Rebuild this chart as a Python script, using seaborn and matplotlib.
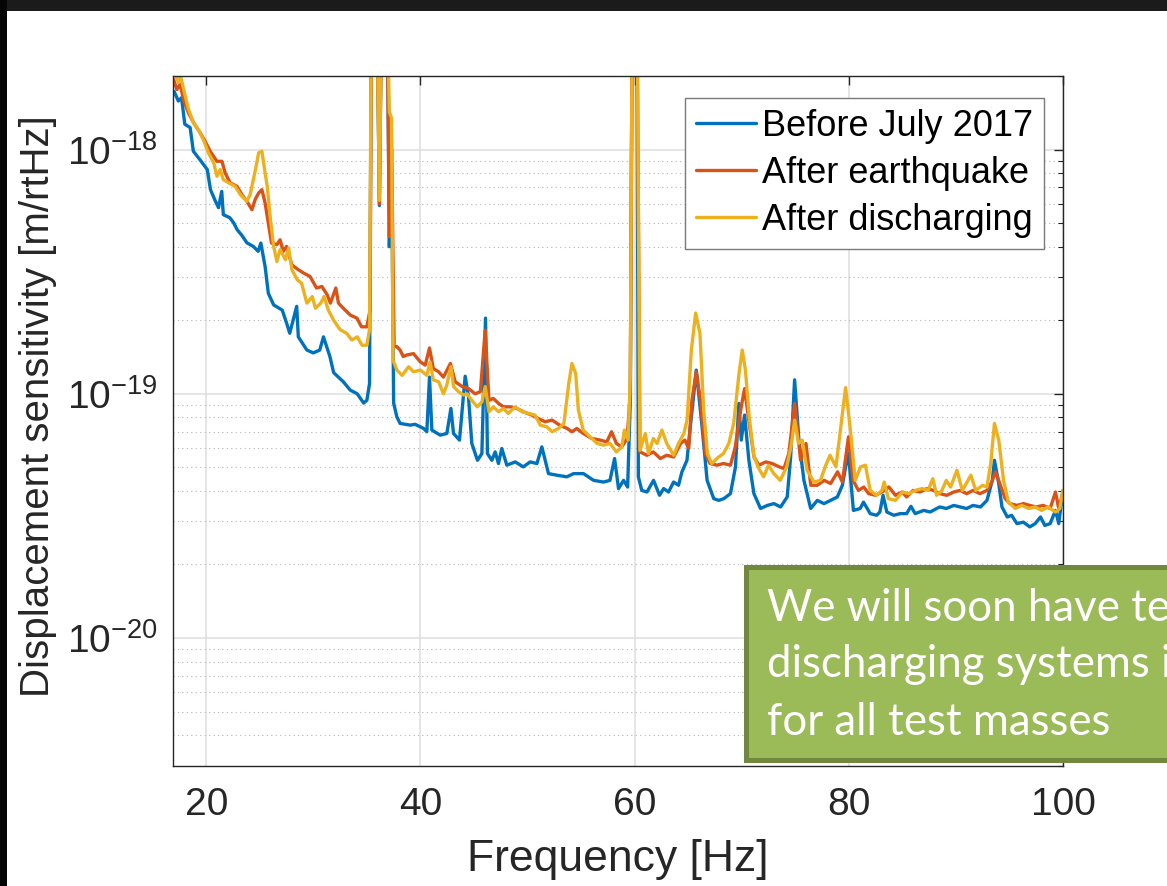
import numpy as np
import pandas as pd
import matplotlib
matplotlib.use("Agg")
import matplotlib.pyplot as plt
from matplotlib.patches import Rectangle
from matplotlib.ticker import LogLocator, NullLocator, NullFormatter, FixedLocator
import seaborn as sns

# ---------------- data (displacement sensitivity in units of 1e-19 m/rtHz) ----------------
f_before = [17.0, 17.4, 17.7, 18.0, 18.5, 18.8, 19.4, 20.1, 20.4, 20.8, 21.15, 21.45, 21.6, 22.2, 22.55,
            22.9, 23.35, 23.8, 24.4, 24.85, 25.1, 25.5, 25.8, 26.3, 27.1, 27.5, 27.8, 28.45, 28.6, 29.4,
            30.0, 30.6, 30.95, 31.55, 31.9, 32.8, 33.45, 34.1, 34.7, 35.0, 35.25,
            35.45, 35.7, 35.95, 36.17, 36.4, 36.65, 36.9, 37.1, 37.3,
            37.5, 37.8, 38.1, 39.05, 39.5, 40.3, 40.6, 40.85, 41.07, 41.85, 42.47, 42.85, 43.09, 43.65,
            44.18, 44.49, 44.8, 45.33, 45.74, 46.08, 46.26, 46.67, 46.98, 47.29, 47.6, 48.07, 48.85, 49.6,
            50.25, 50.88, 51.34, 51.96, 52.74, 53.68, 54.3, 55.23, 56.17, 57.1, 57.7, 58.13, 58.5, 58.97,
            59.35, 59.6, 59.8, 60.0, 60.2,
            60.35, 60.67, 61.15, 61.77, 62.33, 62.71, 63.17, 63.64, 64.1, 64.42, 64.89, 65.2, 65.76, 66.3,
            66.77, 67.39, 67.86, 68.33, 68.95, 69.42, 69.73, 69.96, 70.27, 70.67, 71.14, 71.76, 72.39, 73.01,
            73.63, 74.25, 74.57, 74.94, 75.34, 75.81, 76.44, 77.06, 77.68, 78.3, 78.93, 79.4, 79.7, 79.97,
            80.43, 81.06, 81.37, 82.0, 82.6, 82.9, 83.2, 83.55, 84.2, 84.8, 85.4, 85.8, 86.2, 87.0, 87.6,
            88.2, 88.5, 89.1, 89.8, 90.4, 91.0, 91.6, 92.3, 92.9, 93.4, 93.6, 94.0, 94.3, 94.8, 95.2, 95.7,
            96.3, 96.9, 97.4, 97.9, 98.3, 98.8, 99.3, 99.6, 100.0]
v_before = [17.3, 15.8, 16.3, 12.7, 12.3, 9.84, 9.10, 8.28, 6.85, 6.23, 5.78, 6.74, 5.41, 5.26, 5.02,
            4.69, 4.44, 4.15, 4.01, 3.83, 4.14, 3.32, 2.58, 2.31, 2.20, 1.95, 1.77, 2.28, 1.71, 1.51,
            1.47, 1.51, 1.71, 1.42, 1.22, 1.12, 1.035, 1.0, 0.916, 0.94, 1.10,
            60, 80, 40, 5.9, 50, 80, 40, 4.0, 10,
            0.916, 0.805, 0.756, 0.744, 0.75, 0.721, 0.699, 1.17, 0.71, 0.677, 0.688, 0.871, 0.688, 0.646,
            1.18, 0.972, 0.626, 0.534, 0.569, 2.04, 0.569, 0.534, 0.578, 0.518, 0.597, 0.51, 0.526, 0.502,
            0.526, 0.518, 0.606, 0.471, 0.464, 0.457, 0.471, 0.471, 0.442, 0.435, 0.442, 0.543, 0.409, 0.442,
            0.415, 0.94, 60, 100, 60,
            0.457, 0.402, 0.396, 0.442, 0.384, 0.409, 0.396, 0.435, 0.422, 0.479, 0.534, 0.732, 1.25, 0.732,
            0.442, 0.372, 0.366, 0.372, 0.39, 0.502, 0.913, 0.646, 0.818, 0.534, 0.39, 0.339, 0.349, 0.355,
            0.344, 0.378, 0.551, 1.14, 0.646, 0.442, 0.339, 0.366, 0.355, 0.366, 0.378, 0.422, 0.502, 0.569,
            0.333, 0.339, 0.36, 0.323, 0.318, 0.328, 0.384, 0.328, 0.318, 0.323, 0.323, 0.346, 0.323, 0.333, 0.328,
            0.339, 0.344, 0.339, 0.349, 0.344, 0.339, 0.349, 0.344, 0.366, 0.442, 0.534, 0.429, 0.344, 0.313, 0.318, 0.294,
            0.298, 0.285, 0.294, 0.313, 0.289, 0.294, 0.333, 0.294, 0.402]

f_quake = [16.95, 17.26, 17.57, 17.88, 18.35, 18.81, 19.44, 19.9, 20.37, 21.0, 21.47, 21.77, 22.24, 22.87,
           23.34, 23.8, 24.27, 24.58, 24.9, 25.2, 25.5, 25.8, 26.1, 26.6, 26.9, 27.2, 27.5, 28.0, 28.6,
           29.1, 29.7, 30.3, 30.8, 31.3, 31.6, 32.1, 32.35, 32.8, 33.45, 34.07, 34.5, 35.0, 35.3,
           35.45, 35.7, 35.95, 36.17, 36.4, 36.65, 36.9, 37.1, 37.3,
           37.55, 37.8, 38.1, 38.4, 38.7, 39.35, 40.0, 40.45, 40.85, 41.2, 41.7, 42.15, 42.8, 43.25, 43.9,
           44.5, 45.1, 45.6, 46.05, 46.4, 46.8, 47.3, 47.75, 48.4, 49.0, 49.6, 50.4, 51.0, 51.65, 52.3,
           53.0, 53.7, 54.15, 54.6, 55.2, 56.0, 56.8, 57.4, 57.85, 58.3, 58.8, 59.3, 59.6,
           59.8, 60.0, 60.2,
           60.5, 61.15, 61.75, 62.4, 63.0, 63.65, 64.3, 64.7, 65.05, 65.35, 65.76, 66.15, 66.6, 67.05,
           67.7, 68.3, 68.95, 69.4, 69.9, 70.27, 70.7, 71.15, 71.6, 72.25, 72.85, 73.5, 73.95, 74.4,
           74.95, 75.5, 76.0, 76.45, 77.05, 77.7, 78.3, 78.95, 79.4, 79.97, 80.4, 80.9, 81.4, 81.85,
           82.5, 83.1, 83.75, 84.35, 85.0, 85.4, 86.0, 86.65, 87.3, 87.9, 88.5, 89.15, 89.8, 90.4, 91.0,
           91.6, 92.25, 92.9, 93.35, 93.7, 94.1, 94.6, 95.05, 95.7, 96.3, 96.9, 97.5, 98.15, 98.8, 99.3,
           99.6, 100.0]
v_quake = [19.4, 17.6, 18.5, 16.0, 14.1, 12.9, 11.7, 10.8, 9.84, 8.95, 8.95, 8.02, 7.3, 7.07,
           6.53, 6.14, 5.67, 6.26, 6.64, 6.85, 6.04, 5.0, 4.14, 4.08, 4.27, 3.83, 4.01, 3.37, 3.22,
           3.12, 3.02, 2.71, 2.75, 2.54, 2.35, 2.71, 2.35, 2.24, 2.1, 2.04, 1.88, 1.88, 2.2,
           60, 80, 40, 6.0, 50, 80, 40, 4.4, 11,
           1.56, 1.56, 1.51, 1.42, 1.44, 1.46, 1.35, 1.31, 1.54, 1.27, 1.23, 1.17, 1.33, 1.12, 1.07,
           1.05, 1.0, 1.02, 1.82, 0.94, 0.957, 0.913, 0.884, 0.884, 0.871, 0.844, 0.818, 0.792, 0.768, 0.78,
           0.744, 0.721, 0.699, 0.721, 0.688, 0.656, 0.646, 0.635, 0.699, 0.626, 0.606, 0.656, 1.0,
           60, 100, 60,
           0.578, 0.56, 0.578, 0.543, 0.56, 0.551, 0.626, 0.646, 0.597, 0.94, 1.23, 0.94, 0.569, 0.518,
           0.51, 0.518, 0.51, 0.606, 0.857, 1.05, 0.756, 0.551, 0.51, 0.526, 0.518, 0.502, 0.494, 0.569,
           0.913, 0.534, 0.626, 0.422, 0.422, 0.442, 0.429, 0.479, 0.435, 0.666, 0.442, 0.402, 0.415, 0.39,
           0.384, 0.396, 0.415, 0.384, 0.396, 0.378, 0.402, 0.396, 0.409, 0.402, 0.39, 0.384, 0.396, 0.402, 0.39,
           0.402, 0.39, 0.402, 0.435, 0.479, 0.429, 0.372, 0.355, 0.349, 0.355, 0.349, 0.344, 0.349, 0.339, 0.396,
           0.339, 0.396]

f_discharge = [17.1, 17.4, 17.6, 17.9, 18.35, 18.8, 19.3, 19.8, 20.2, 20.7, 21.0, 21.3, 21.6, 22.1, 22.7,
               23.2, 23.8, 24.1, 24.6, 24.9, 25.2, 25.5, 25.7, 26.0, 26.3, 26.6, 26.9, 27.4, 27.7, 28.0,
               28.5, 28.9, 29.4, 29.9, 30.2, 30.7, 31.0, 31.4, 31.9, 32.5, 33.1, 33.6, 34.1, 34.55, 35.0, 35.25,
               35.45, 35.7, 35.95, 36.17, 36.4, 36.65, 36.9, 37.1, 37.3,
               37.45, 37.8, 38.3, 38.9, 39.35, 40.0, 40.6, 40.9, 41.2, 41.7, 42.15, 42.45, 42.85, 43.1, 43.55,
               44.05, 44.35, 44.8, 45.3, 45.75, 46.05, 46.4, 46.8, 47.3, 47.75, 48.2, 48.85, 49.5, 50.1, 50.7,
               51.2, 51.8, 52.3, 52.9, 53.4, 53.85, 54.15, 54.5, 54.75, 55.2, 55.85, 56.5, 57.1, 57.7, 58.3,
               58.8, 59.05, 59.4, 59.6,
               59.8, 60.0, 60.2,
               60.5, 61.0, 61.3, 61.75, 62.1, 62.55, 63.0, 63.65, 64.1, 64.6, 64.9, 65.3, 65.7, 66.1, 66.45,
               66.8, 67.2, 67.85, 68.3, 68.8, 69.25, 69.75, 70.05, 70.35, 70.7, 71.15, 71.6, 72.05, 72.5, 73.0,
               73.6, 74.2, 74.6, 74.95, 75.3, 75.65, 76.1, 76.75, 77.35, 77.85, 78.25, 78.8, 79.25, 79.7, 80.15,
               80.6, 81.1, 81.55, 82.0, 82.6, 83.1, 83.3, 83.7, 84.35, 85.0, 85.6, 86.2, 86.85, 87.4, 87.85,
               88.2, 88.7, 89.1, 89.5, 90.1, 90.6, 91.4, 91.85, 92.5, 92.9, 93.25, 93.6, 94.0, 94.45, 94.9,
               95.55, 96.15, 96.8, 97.4, 98.0, 98.6, 99.3, 99.7, 100.0]
v_discharge = [20.5, 18.8, 20.0, 17.6, 14.6, 12.9, 12.0, 10.8, 9.7, 8.83, 7.77, 8.28, 7.53, 7.3, 7.07,
               6.53, 6.14, 6.53, 8.28, 9.7, 9.84, 8.02, 7.07, 5.16, 4.01, 3.48, 3.89, 3.54, 3.95, 3.22,
               2.93, 2.84, 2.35, 2.50, 2.24, 2.35, 2.50, 2.2, 2.0, 1.83, 1.77, 1.66, 1.71, 1.58, 1.58, 1.83,
               60, 80, 40, 6.2, 50, 80, 40, 14.2, 13.5,
               1.37, 1.25, 1.19, 1.29, 1.23, 1.25, 1.19, 1.35, 1.14, 1.12, 1.0, 1.08, 1.29, 1.07, 1.02,
               0.988, 1.0, 0.94, 0.884, 0.927, 1.07, 0.844, 0.884, 0.844, 0.871, 0.831, 0.884, 0.844, 0.831, 0.818,
               0.744, 0.732, 0.699, 0.721, 0.756, 1.10, 1.33, 1.21, 0.857, 0.71, 0.666, 0.626, 0.616, 0.626, 0.578,
               0.606, 0.71, 0.646, 1.2,
               60, 100, 60,
               0.587, 0.688, 0.569, 0.656, 0.626, 0.71, 0.626, 0.56, 0.626, 0.688, 0.78, 1.51, 2.14, 1.77, 0.857,
               0.569, 0.518, 0.551, 0.569, 0.626, 0.756, 1.21, 1.51, 1.25, 0.805, 0.551, 0.494, 0.457, 0.51, 0.471,
               0.442, 0.502, 0.606, 0.78, 0.626, 0.646, 0.486, 0.435, 0.442, 0.51, 0.56, 0.502, 0.732, 1.06, 0.71,
               0.442, 0.502, 0.51, 0.402, 0.384, 0.402, 0.435, 0.372, 0.366, 0.396, 0.39, 0.402, 0.409, 0.402, 0.449,
               0.384, 0.402, 0.442, 0.415, 0.486, 0.402, 0.464, 0.402, 0.422, 0.415, 0.518, 0.756, 0.646, 0.442, 0.36,
               0.339, 0.349, 0.339, 0.344, 0.333, 0.344, 0.328, 0.339, 0.402]

labels = ["Before July 2017", "After earthquake", "After discharging"]
colors = ["#0072BD", "#D95319", "#EDB120"]
x_ticks = [20, 40, 60, 80, 100]
y_major = [1e-20, 1e-19, 1e-18]
box_lines = ["We will soon have test mass", "discharging systems installed", "for all test masses"]

# ---------------- figure ----------------
sns.set_theme(style="white")
plt.rcParams["font.family"] = ["Liberation Sans", "DejaVu Sans"]
plt.rcParams["mathtext.fontset"] = "custom"
plt.rcParams["mathtext.rm"] = "Liberation Sans"
plt.rcParams["mathtext.default"] = "regular"

W, H = 1167, 886
fig = plt.figure(figsize=(W / 100, H / 100), dpi=100)
fig.patch.set_facecolor("white")
ax = fig.add_axes([173 / W, 1 - 765.7 / H, (1063 - 173) / W, (765.7 - 76) / H])

series = [(f_before, v_before), (f_quake, v_quake), (f_discharge, v_discharge)]
for (f, v), lab, col in zip(series, labels, colors):
    df = pd.DataFrame({"freq": f, "asd": np.array(v) * 1e-19})
    sns.lineplot(data=df, x="freq", y="asd", ax=ax, color=col, lw=2.4, label=lab,
                 sort=False, estimator=None)

ax.set_yscale("log")
ax.set_xlim(16.9, 100)
ax.set_ylim(3e-21, 2e-18)
ax.xaxis.set_major_locator(FixedLocator(x_ticks))
ax.xaxis.set_minor_locator(NullLocator())
ax.yaxis.set_major_locator(FixedLocator(y_major))
ax.yaxis.set_minor_locator(LogLocator(base=10, subs=np.arange(2, 10)))
ax.yaxis.set_minor_formatter(NullFormatter())

ax.set_axisbelow(True)
ax.grid(which="major", axis="both", color="#dedede", lw=1.1, ls="-")
ax.grid(which="minor", axis="y", color="#b8b8b8", lw=0.8, ls=(0, (1, 3)))

for s in ax.spines.values():
    s.set_color("#262626")
    s.set_linewidth(1.0)

ax.tick_params(which="both", direction="in", top=True, right=True, colors="#262626")
ax.tick_params(which="major", length=6.5, width=1.0)
ax.tick_params(which="minor", length=3.6, width=0.8)
ax.tick_params(axis="x", which="major", labelsize=28, pad=15)
ax.tick_params(axis="y", which="major", labelsize=28, pad=11)

ax.set_xlabel("Frequency [Hz]", fontsize=32, color="#262626")
ax.set_ylabel("Displacement sensitivity [m/rtHz]", fontsize=29, color="#262626", va="center")
ax.yaxis.set_label_coords((38 - 173) / 890, (765.7 - 406) / 689.7)
ax.xaxis.set_label_coords(0.5, -(860 - 765.7) / 689.7)
ax.xaxis.label.set_va("center")

leg = ax.legend(loc="upper right", bbox_to_anchor=(1044 / W, 1 - 98.3 / H),
                bbox_transform=fig.transFigure, borderaxespad=0, fontsize=26,
                handlelength=1.66, handletextpad=0.17, borderpad=0.3, labelspacing=0.33,
                frameon=True, fancybox=False, framealpha=1)
leg.get_frame().set_edgecolor("#7a7a7a")
leg.get_frame().set_linewidth(1.0)
for t in leg.get_texts():
    t.set_color("black")

# dark slide border (top and left)
fig.patches.append(Rectangle((0, 1 - 11 / H), 1, 11 / H, transform=fig.transFigure,
                             facecolor="#1b1b1b", edgecolor="none", zorder=10))
fig.patches.append(Rectangle((0, 0), 7 / W, 1, transform=fig.transFigure,
                             facecolor="#050505", edgecolor="none", zorder=10))

# green call-out box (runs past the right edge, as in the slide)
fig.patches.append(Rectangle((745.8 / W, 1 - 760 / H), (1200 - 745.8) / W, (760 - 566.5) / H,
                             transform=fig.transFigure, facecolor="#9BBB59", edgecolor="#71893F",
                             lw=3.6, zorder=20))
for line, base in zip(box_lines, [621, 676.7, 735]):
    fig.text(767 / W, 1 - base / H, line, fontsize=31.5, color="white", family=["Lato", "DejaVu Sans"],
             va="baseline", ha="left", zorder=21)

fig.savefig("out.png", dpi=100)
